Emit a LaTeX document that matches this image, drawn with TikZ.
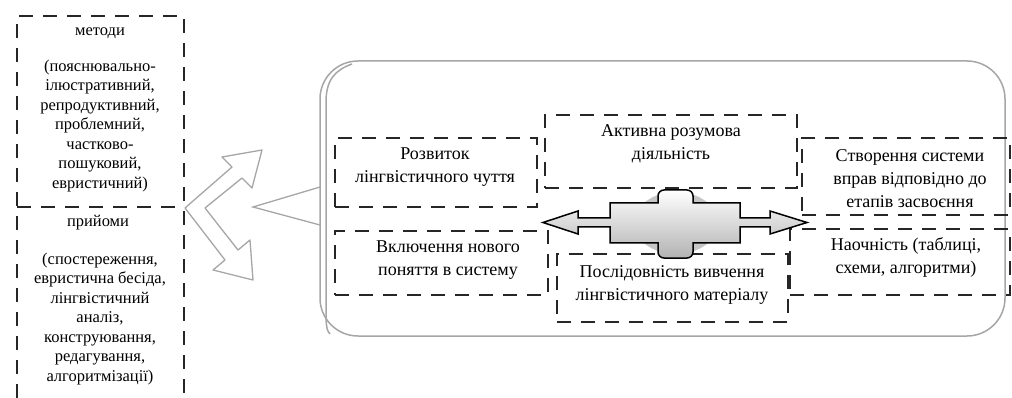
\documentclass[tikz,border=0pt]{standalone}
\usepackage{fontspec}
\setmainfont{Liberation Serif}
\usetikzlibrary{calc,backgrounds,positioning}
\tikzset{dbox/.style={draw=black!85,line width=1.6pt,dash pattern=on 14pt off 10pt,inner sep=0pt},
  txt/.style={align=center,inner sep=0pt,font=\fontsize{18}{23}\selectfont},
  ltxt/.style={align=center,inner sep=0pt,font=\fontsize{16.5}{19.5}\selectfont}}
\begin{document}
\begin{tikzpicture}[x=1pt,y=-1pt]
\useasboundingbox (0,0) rectangle (1012,398);
% draw left column
\draw[dbox] (17,398) -- (17,16) -- (184,16) -- (184,398);
\draw[dbox] (17,207) -- (184,207);
\node[ltxt] (metody) at (100,33) {методи};
\node[ltxt] (metodyt) at (100,126) {(пояснювально-\\ілюстративний,\\репродуктивний,\\проблемний,\\частково-\\пошуковий,\\евристичний)};
\node[ltxt] (pryjomy) at (98,223) {прийоми};
\node[ltxt] (pryjomyt) at (100,319) {(спостереження,\\евристична бесіда,\\лінгвістичний\\аналіз,\\конструювання,\\редагування,\\алгоритмізації)};
% draw branching arrow
\draw[gray!70,line width=1.3pt,fill=white,line join=round] (185,208) -- (232,167) -- (222,157) -- (262,150) -- (252,188) -- (242,178) -- (205,208)
  -- (238,250) -- (250,240) -- (253,280) -- (213,270) -- (225,260) -- cycle;
% draw frame
\coordinate (tip) at (253,207);
\draw[gray!70,line width=1.5pt,rounded corners=38pt] (320,61) rectangle (1005,336);
\draw[gray!70,line width=1.5pt] (330,334) .. controls (327,330) .. (326,320) -- (326,102) .. controls (326,80) and (335,70) .. (352,64);
\draw[gray!70,line width=1.3pt] (320,187) -- (tip) -- (320,225);
% draw boxes
\node[dbox,minimum width=202pt,minimum height=69pt] (rozv) at (436,172.5) {};
\node[dbox,minimum width=252pt,minimum height=73pt] (aktyv) at (671,151.5) {};
\node[dbox,minimum width=208pt,minimum height=77pt] (stvor) at (906,176.5) {};
\node[dbox,minimum width=213pt,minimum height=64pt] (vkl) at (441.5,263) {};
\node[dbox,minimum width=231pt,minimum height=68pt] (posl) at (672.5,288) {};
\node[dbox,minimum width=220pt,minimum height=66pt] (naoch) at (900,262) {};
\node[txt] (rozvt) at (435,167.5) {Розвиток\\лінгвістичного чуття};
\node[txt] (aktyvt) at (671,144) {Активна розумова\\діяльність};
\node[txt] (stvort) at (910,179) {Створення системи\\вправ відповідно до\\етапів засвоєння};
\node[txt] (vklt) at (448,260) {Включення нового\\поняття в систему};
\node[txt] (poslt) at (672,285) {Послідовність вивчення\\лінгвістичного матеріалу};
\node[txt] (naocht) at (906,257.5) {Наочність (таблиці,\\схеми, алгоритми)};
% draw cross arrow
\fill[gray!45] (676,223) ellipse (42 and 31);
\draw[line width=1.5pt,top color=white,bottom color=gray!60,line join=miter]
  (543,222.5) -- (578,211) -- (578,218) -- (610,218) -- (610,203) -- (658,203)
  [rounded corners=6pt] -- (658,190) -- (693,190) [sharp corners] -- (693,203) -- (740,203) -- (740,218)
  -- (770,218) -- (770,211) -- (807,222.5) -- (770,234) -- (770,227) -- (740,227) -- (740,243) -- (693,243)
  [rounded corners=6pt] -- (693,258) -- (658,258) [sharp corners] -- (658,243) -- (610,243) -- (610,227)
  -- (578,227) -- (578,234) -- cycle;
\end{tikzpicture}
\end{document}
